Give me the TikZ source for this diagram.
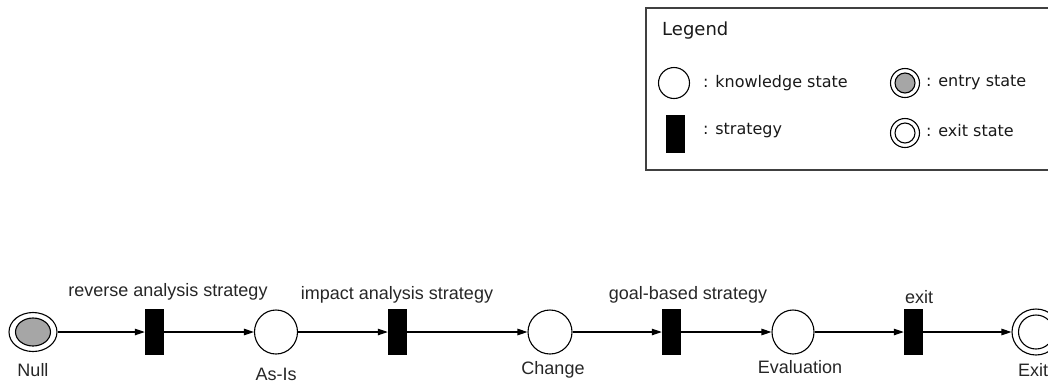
\documentclass[tikz,border=0pt]{standalone}
\usepackage{fontspec}
\setmainfont{Liberation Sans}
\newfontfamily\legfont{DejaVu Sans}
\usetikzlibrary{shapes.geometric,arrows.meta}
\begin{document}
\begin{tikzpicture}[x=1pt,y=-1pt,
  state/.style={draw=black,line width=1.1pt,ellipse,inner sep=0pt,fill=white},
  strat/.style={draw=black,fill=black,rectangle,inner sep=0pt,minimum width=18pt,minimum height=45pt},
  flow/.style={line width=1.1pt,-{Triangle[length=10pt,width=6.5pt]}},
  lbl/.style={font=\fontsize{18}{20}\selectfont,inner sep=0pt,text=black!85},
  leg/.style={font=\legfont\fontsize{16}{19}\selectfont,inner sep=0pt,anchor=west,text=black!90}]
\useasboundingbox (0,0) rectangle (1048,384);
\clip (0,0) rectangle (1048,384);
% legend
\draw[line width=2pt,draw=black!75] (646,8) rectangle (1070,170);
\node[leg,font=\legfont\fontsize{18}{20}\selectfont] (lt) at (662,31) {Legend};
\node[state,minimum width=31pt,minimum height=31pt] (lk) at (674,83) {};
\node[leg] (lkt) at (703,83) {: knowledge state};
\node[state,minimum width=29pt,minimum height=29pt] (le) at (905,83) {};
\node[state,fill=black!35,minimum width=20pt,minimum height=20pt] (lei) at (905,83) {};
\node[leg] (let) at (926,83) {: entry state};
\node[strat,minimum height=37pt] (ls) at (675,133.5) {};
\node[leg] (lst) at (703,131) {: strategy};
\node[state,minimum width=29pt,minimum height=29pt] (lx) at (905,133) {};
\node[state,minimum width=20pt,minimum height=20pt] (lxi) at (905,133) {};
\node[leg] (lxt) at (926,131) {: exit state};
% process
\node[state,minimum width=48pt,minimum height=39pt] (null) at (33,332) {};
\node[state,fill=black!35,minimum width=35pt,minimum height=28pt] (nulli) at (33,332) {};
\node[strat] (r1) at (154,332) {};
\node[state,minimum width=43pt,minimum height=44pt] (asis) at (276,332) {};
\node[strat] (r2) at (397,332) {};
\node[state,minimum width=44pt,minimum height=44pt] (change) at (550,332) {};
\node[strat] (r3) at (671,332) {};
\node[state,minimum width=42pt,minimum height=44pt] (eval) at (793,332) {};
\node[strat] (r4) at (913,332) {};
\node[state,minimum width=48pt,minimum height=46pt] (exit) at (1036,332) {};
\node[state,minimum width=35pt,minimum height=34pt] (exiti) at (1036,332) {};
% labels
\node[lbl] (lnull) at (33,370) {Null};
\node[lbl] (lasis) at (276,374) {As-Is};
\node[lbl] (lchange) at (553,370) {Change};
\node[lbl] (leval) at (800,367) {Evaluation};
\node[lbl] (lexit) at (1033,370) {Exit};
\node[lbl] (l1) at (168,292) {reverse analysis strategy};
\node[lbl] (l2) at (397,295) {impact analysis strategy};
\node[lbl] (l3) at (688,295) {goal-based strategy};
\node[lbl] (l4) at (919,297) {exit};
% connectors
\draw[flow] (null) -- (r1);
\draw[flow] (r1) -- (asis);
\draw[flow] (asis) -- (r2);
\draw[flow] (r2) -- (change);
\draw[flow] (change) -- (r3);
\draw[flow] (r3) -- (eval);
\draw[flow] (eval) -- (r4);
\draw[flow] (r4) -- (exit);
\end{tikzpicture}
\end{document}
